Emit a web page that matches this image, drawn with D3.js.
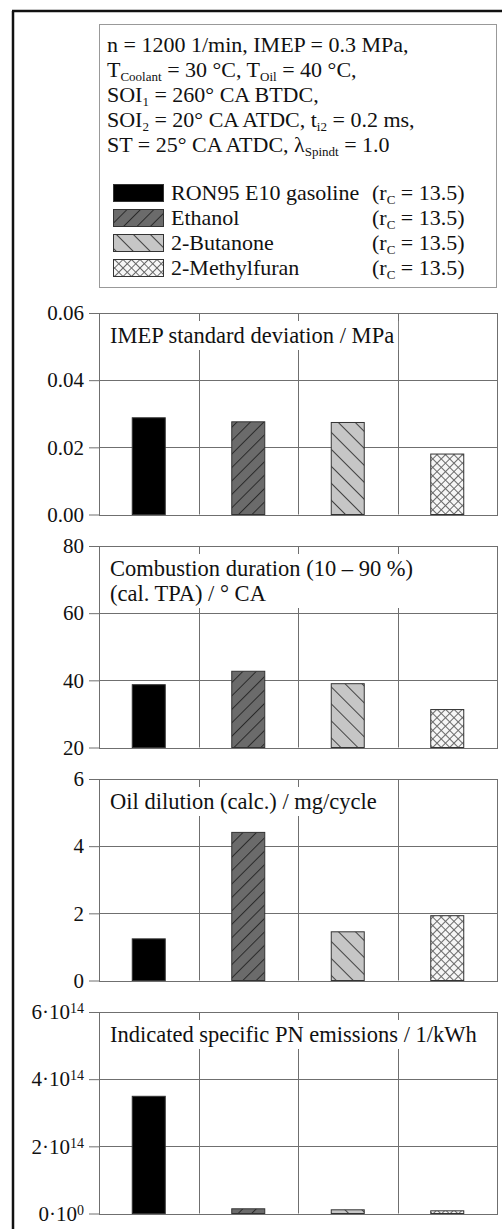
<!DOCTYPE html>
<html lang="en">
<head>
<meta charset="utf-8">
<title>fuel comparison</title>
<script src="https://cdn.jsdelivr.net/npm/d3@7/dist/d3.min.js"></script>
<style>
  body { margin: 0; background: #fff; }
  svg { display: block; font-family: "Liberation Serif", "Times New Roman", serif; }
</style>
</head>
<body>
<script>
// fuels (one bar each per panel)
var fuels = ["RON95 E10 gasoline", "Ethanol", "2-Butanone", "2-Methylfuran"];
var compression = ["13.5", "13.5", "13.5", "13.5"];

// values
var imepStd = [0.0288, 0.0276, 0.0274, 0.018];
var burnDuration = [38.7, 42.7, 39.0, 31.3];
var oilDilution = [1.24, 4.41, 1.45, 1.93];
var pnEmissions = [3.49e14, 0.14e14, 0.11e14, 0.08e14];

var imepTicks = [0, 0.02, 0.04, 0.06];
var imepLabels = ["0.00", "0.02", "0.04", "0.06"];
var burnTicks = [20, 40, 60, 80];
var burnLabels = ["20", "40", "60", "80"];
var oilTicks = [0, 2, 4, 6];
var oilLabels = ["0", "2", "4", "6"];
var pnTicks = [0, 2e14, 4e14, 6e14];
var pnLabels = [["0", "0"], ["2", "14"], ["4", "14"], ["6", "14"]];

var W = 502, H = 1229;
var FS = 22.5;
var svg = d3.select("body").append("svg").attr("width", W).attr("height", H);

// patterns
var defs = svg.append("defs");
function hatch(id, bg, line, size, angle, cross) {
  var p = defs.append("pattern").attr("id", id)
    .attr("patternUnits", "userSpaceOnUse")
    .attr("width", size).attr("height", size)
    .attr("patternTransform", "rotate(" + angle + ")");
  p.append("rect").attr("width", size).attr("height", size).attr("fill", bg);
  p.append("line").attr("x1", 0.5).attr("y1", 0).attr("x2", 0.5).attr("y2", size)
    .attr("stroke", line).attr("stroke-width", 1);
  if (cross) {
    p.append("line").attr("x1", 0).attr("y1", 0.5).attr("x2", size).attr("y2", 0.5)
      .attr("stroke", line).attr("stroke-width", 1);
  }
}
hatch("pEth", "#6b6b6b", "#2a2a2a", 9.5, 45, false);
hatch("pBut", "#c6c6c6", "#444", 12, -45, false);
hatch("pMf", "#f6f6f6", "#6a6a6a", 6, 45, true);
var fills = ["#000", "url(#pEth)", "url(#pBut)", "url(#pMf)"];

// outer frame
svg.append("line").attr("x1", 13).attr("y1", 11).attr("x2", 13).attr("y2", H)
  .attr("stroke", "#111").attr("stroke-width", 2.5);
svg.append("line").attr("x1", 12).attr("y1", 11).attr("x2", W).attr("y2", 11)
  .attr("stroke", "#111").attr("stroke-width", 2.5);

// info / legend box
var lg = svg.append("g");
lg.append("rect").attr("x", 99.5).attr("y", 24.5).attr("width", 397).attr("height", 263)
  .attr("fill", "#fff").attr("stroke", "#999");

// each line: list of [text, isSub]
var infoLines = [
  [["n = 1200 1/min, IMEP = 0.3 MPa,", 0]],
  [["T", 0], ["Coolant", 1], [" = 30 °C, T", 0], ["Oil", 1], [" = 40 °C,", 0]],
  [["SOI", 0], ["1", 1], [" = 260° CA BTDC,", 0]],
  [["SOI", 0], ["2", 1], [" = 20° CA ATDC, t", 0], ["i2", 1], [" = 0.2 ms,", 0]],
  [["ST = 25° CA ATDC, λ", 0], ["Spindt", 1], [" = 1.0", 0]]
];
function richText(sel, parts) {
  parts.forEach(function(p, i) {
    var prevSub = i > 0 && parts[i - 1][1];
    var t = sel.append("tspan").text(p[0]);
    if (p[1]) t.attr("font-size", 13).attr("dy", 4);
    else if (prevSub) t.attr("dy", -4);
  });
}
infoLines.forEach(function(parts, i) {
  var t = lg.append("text").attr("x", 107).attr("y", 52 + i * 25)
    .attr("font-size", 22).attr("fill", "#111");
  richText(t, parts);
});

fuels.forEach(function(f, i) {
  var y = 184 + i * 25;
  lg.append("rect").attr("x", 113.5).attr("y", y + 0.5).attr("width", 50).attr("height", 17)
    .attr("fill", fills[i]).attr("stroke", "#333");
  lg.append("text").attr("x", 171).attr("y", y + 16).attr("font-size", 22).attr("fill", "#111")
    .text(f);
  var t = lg.append("text").attr("x", 372).attr("y", y + 16).attr("font-size", 22).attr("fill", "#111");
  richText(t, [["(r", 0], ["C", 1], [" = " + compression[i] + ")", 0]]);
});

// panels
var panels = [
  { vals: imepStd, domain: [0, 0.06], ticks: imepTicks, labels: imepLabels,
    title: ["IMEP standard deviation / MPa"] },
  { vals: burnDuration, domain: [20, 80], ticks: burnTicks, labels: burnLabels,
    title: ["Combustion duration (10 – 90 %)", "(cal. TPA) / ° CA"] },
  { vals: oilDilution, domain: [0, 6], ticks: oilTicks, labels: oilLabels,
    title: ["Oil dilution (calc.) / mg/cycle"] },
  { vals: pnEmissions, domain: [0, 6e14], ticks: pnTicks, labels: pnLabels,
    title: ["Indicated specific PN emissions / 1/kWh"] }
];
var tops = [313, 546, 779, 1012];
var ph = 201.5;
var left = 99, right = 497;
var grid = "#6f6f6f";

var x = d3.scaleBand().domain(fuels).range([left, right]).padding(0);

panels.forEach(function(p, k) {
  var g = svg.append("g");
  var top = tops[k];
  var y = d3.scaleLinear().domain(p.domain).range([top + ph, top]);

  // horizontal grid
  g.selectAll(".hg").data(p.ticks).enter().append("line")
    .attr("x1", left).attr("x2", right)
    .attr("y1", function(d) { return Math.round(y(d)) + 0.5; })
    .attr("y2", function(d) { return Math.round(y(d)) + 0.5; })
    .attr("stroke", grid);
  // vertical grid between categories
  g.selectAll(".vg").data(fuels.slice(1)).enter().append("line")
    .attr("x1", function(d) { return Math.round(x(d)) + 0.5; })
    .attr("x2", function(d) { return Math.round(x(d)) + 0.5; })
    .attr("y1", top).attr("y2", top + ph)
    .attr("stroke", grid);
  g.append("rect").attr("x", left + 0.5).attr("y", Math.round(top) + 0.5)
    .attr("width", right - left).attr("height", Math.round(ph))
    .attr("fill", "none").attr("stroke", grid);

  // axis ticks and labels
  var ax = g.append("g").attr("transform", "translate(" + left + ",0)")
    .call(d3.axisLeft(y).tickValues(p.ticks).tickSize(10).tickPadding(5)
      .tickFormat(function(d, i) { return ""; }));
  ax.select(".domain").remove();
  ax.selectAll(".tick line").attr("stroke", grid);
  ax.selectAll(".tick text").each(function(d, i) {
    var t = d3.select(this).attr("font-size", 21).attr("fill", "#111")
      .attr("font-family", "Liberation Serif, serif");
    var lab = p.labels[i];
    if (Array.isArray(lab)) {
      t.append("tspan").text(lab[0] + "·10");
      t.append("tspan").text(lab[1]).attr("font-size", 14).attr("dy", -6);
    } else {
      t.text(lab);
    }
  });

  // title with white backing
  var tg = g.append("g");
  var tt = tg.append("text").attr("font-size", FS).attr("fill", "#111");
  p.title.forEach(function(s, i) {
    tt.append("tspan").attr("x", 110).attr("y", top + 30 + i * 25).text(s);
  });
  var bb = tt.node().getBBox();
  tg.insert("rect", "text").attr("x", bb.x - 6).attr("y", bb.y - 2)
    .attr("width", bb.width + 10).attr("height", bb.height + 4).attr("fill", "#fff");

  // bars
  var bw = 33;
  g.selectAll(".bar").data(p.vals).enter().append("rect")
    .attr("x", function(d, i) { return x(fuels[i]) + x.bandwidth() / 2 - bw / 2; })
    .attr("width", bw)
    .attr("y", function(d) { return y(d); })
    .attr("height", function(d) { return y(p.domain[0]) - y(d); })
    .attr("fill", function(d, i) { return fills[i]; })
    .attr("stroke", "#333").attr("stroke-width", 1);
});
</script>
</body>
</html>
